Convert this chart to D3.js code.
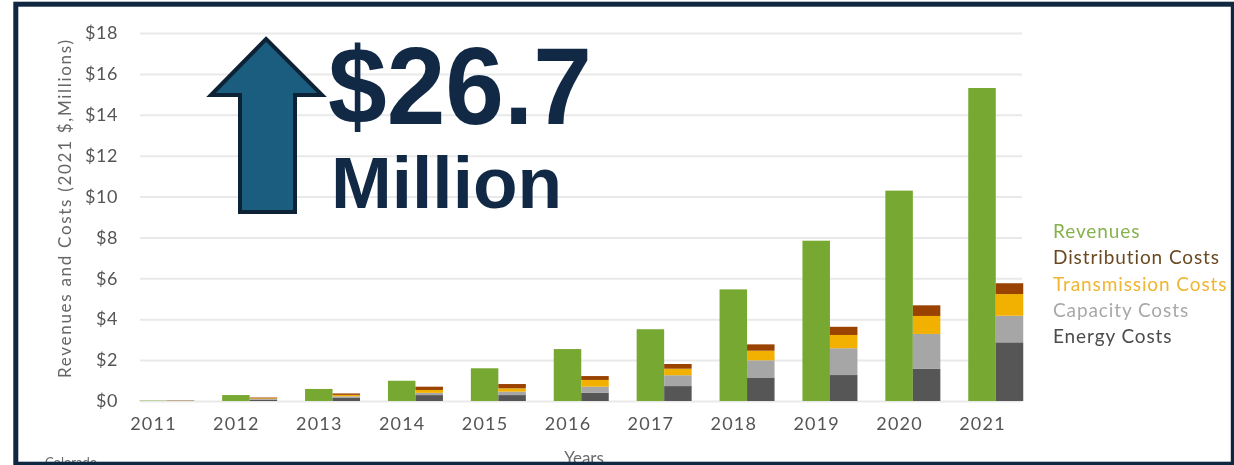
<!DOCTYPE html>
<html>
<head>
<meta charset="utf-8">
<script src="https://cdn.jsdelivr.net/npm/d3@7"></script>
<style>
  html, body { margin: 0; padding: 0; background: #ffffff; }
  svg { display: block; }
</style>
</head>
<body>
<svg id="chart" width="1234" height="465"></svg>
<script>
// Colorado: revenues vs. avoided cost components, 2011–2021 (2021 $, millions)
const years = ["2011","2012","2013","2014","2015","2016","2017","2018","2019","2020","2021"];
const revenues     = [0.02, 0.29, 0.59, 0.99, 1.60, 2.54, 3.51, 5.46, 7.84, 10.29, 15.31];
const energy       = [0.01, 0.06, 0.15, 0.29, 0.29, 0.41, 0.73, 1.15, 1.27, 1.57, 2.87];
const capacity     = [0.01, 0.04, 0.08, 0.11, 0.17, 0.29, 0.53, 0.84, 1.31, 1.71, 1.30];
const transmission = [0.005,0.03, 0.07, 0.14, 0.16, 0.33, 0.32, 0.47, 0.65, 0.88, 1.06];
const distribution = [0.01, 0.04, 0.07, 0.16, 0.21, 0.19, 0.23, 0.31, 0.40, 0.52, 0.53];
const yTicks = [0, 2, 4, 6, 8, 10, 12, 14, 16, 18];
const legendLabels = ["Revenues", "Distribution Costs", "Transmission Costs", "Capacity Costs", "Energy Costs"];
const headline = "$26.7";
const headlineUnit = "Million";

const svg = d3.select("#chart");
const W = 1234, H = 465;

const plot = { left: 140, right: 1022, top: 33, bottom: 401 };
const x = d3.scalePoint().domain(years).range([153, 982]);
const y = d3.scaleLinear().domain([0, 18]).range([plot.bottom, plot.top]);
const barW = 27.5;

const colors = {
  revenue: "#76a832",
  energy: "#575757",
  capacity: "#a6a6a6",
  transmission: "#f2b100",
  distribution: "#9a4300"
};
const legendColors = ["#86b24e", "#6a4a22", "#f0b530", "#a8a8a8", "#4b4b4b"];
const font = "Lato, 'Open Sans', sans-serif";

svg.append("rect").attr("width", W).attr("height", H).attr("fill", "#ffffff");

// soft rendering for the chart body
const defs = svg.append("defs");
defs.append("filter").attr("id", "soft")
  .attr("x", "-5%").attr("y", "-5%").attr("width", "110%").attr("height", "110%")
  .append("feGaussianBlur").attr("stdDeviation", 0.55);

const g = svg.append("g").attr("filter", "url(#soft)");

// gridlines and y tick labels
const yAxis = d3.axisLeft(y).tickValues(yTicks)
  .tickSize(-(plot.right - plot.left)).tickPadding(22)
  .tickFormat(d => "$" + d);
const ya = g.append("g").attr("transform", `translate(${plot.left},0)`).call(yAxis);
ya.select(".domain").remove();
ya.selectAll(".tick line").attr("stroke", "#e9e9e9").attr("stroke-width", 2);
ya.selectAll(".tick text")
  .attr("fill", "#555555").attr("font-family", font)
  .attr("font-size", 18).attr("letter-spacing", 0.6).attr("x", -22);

// x axis labels
const xAxis = d3.axisBottom(x).tickSize(0).tickPadding(16);
const xa = g.append("g").attr("transform", `translate(0,${plot.bottom})`).call(xAxis);
xa.select(".domain").remove();
xa.selectAll(".tick text")
  .attr("fill", "#555555").attr("font-family", font)
  .attr("font-size", 18).attr("letter-spacing", 1.2);

// revenue bars, centred on the year
g.append("g").selectAll("rect").data(years).join("rect")
  .attr("x", d => x(d) - barW / 2)
  .attr("width", barW)
  .attr("y", (d, i) => y(revenues[i]))
  .attr("height", (d, i) => y(0) - y(revenues[i]))
  .attr("fill", colors.revenue);

// stacked cost bars beside the revenue bars
const costKeys = ["energy", "capacity", "transmission", "distribution"];
const costRows = years.map((yr, i) => ({
  year: yr,
  energy: energy[i], capacity: capacity[i],
  transmission: transmission[i], distribution: distribution[i]
}));
const stack = d3.stack().keys(costKeys)(costRows);
g.append("g").selectAll("g").data(stack).join("g")
  .attr("fill", s => colors[s.key])
  .selectAll("rect").data(s => s).join("rect")
  .attr("x", d => x(d.data.year) + barW / 2)
  .attr("width", barW)
  .attr("y", d => y(d[1]))
  .attr("height", d => y(d[0]) - y(d[1]));

// y axis title
g.append("text")
  .attr("transform", `translate(71,${(40 + 378) / 2}) rotate(-90)`)
  .attr("text-anchor", "middle")
  .attr("font-family", font)
  .attr("font-size", 17).attr("fill", "#666666")
  .attr("textLength", 338).attr("lengthAdjust", "spacing")
  .text("Revenues and Costs (2021 $,Millions)");

// x axis title and source note, running under the frame
g.append("text").attr("x", 584).attr("y", 464).attr("text-anchor", "middle")
  .attr("font-family", font).attr("font-size", 17)
  .attr("fill", "#6a6a6a").text("Years");
g.append("text").attr("x", 45).attr("y", 467)
  .attr("font-family", font).attr("font-size", 13)
  .attr("fill", "#6a6a6a").text("Colorado");

// legend
g.append("g").selectAll("text").data(legendLabels).join("text")
  .attr("x", 1053)
  .attr("y", (d, i) => 238 + i * 26.3)
  .attr("font-family", font)
  .attr("font-size", 19).attr("letter-spacing", 0.9)
  .attr("fill", (d, i) => legendColors[i])
  .text(d => d);

// headline arrow
const arrow = d3.path();
arrow.moveTo(266, 39);
arrow.lineTo(322, 95);
arrow.lineTo(295, 95);
arrow.lineTo(295, 212);
arrow.lineTo(240, 212);
arrow.lineTo(240, 95);
arrow.lineTo(211, 95);
arrow.closePath();
svg.append("path").attr("d", arrow.toString())
  .attr("fill", "#1b5d7f").attr("stroke", "#0e2236").attr("stroke-width", 4)
  .attr("stroke-linejoin", "miter");

svg.append("text").attr("x", 328).attr("y", 124)
  .attr("font-family", "'Liberation Sans', Arial, sans-serif").attr("font-weight", "bold")
  .attr("font-size", 110).attr("fill", "#112945")
  .attr("textLength", 264).attr("lengthAdjust", "spacingAndGlyphs")
  .text(headline);
svg.append("text").attr("x", 331).attr("y", 208)
  .attr("font-family", "'Liberation Sans', Arial, sans-serif").attr("font-weight", "bold")
  .attr("font-size", 73).attr("fill", "#112945")
  .text(headlineUnit);

// frame
svg.append("rect")
  .attr("x", 15.8).attr("y", 4.2).attr("width", 1217.5).attr("height", 460)
  .attr("fill", "none").attr("stroke", "#0f2740").attr("stroke-width", 5);
</script>
</body>
</html>
